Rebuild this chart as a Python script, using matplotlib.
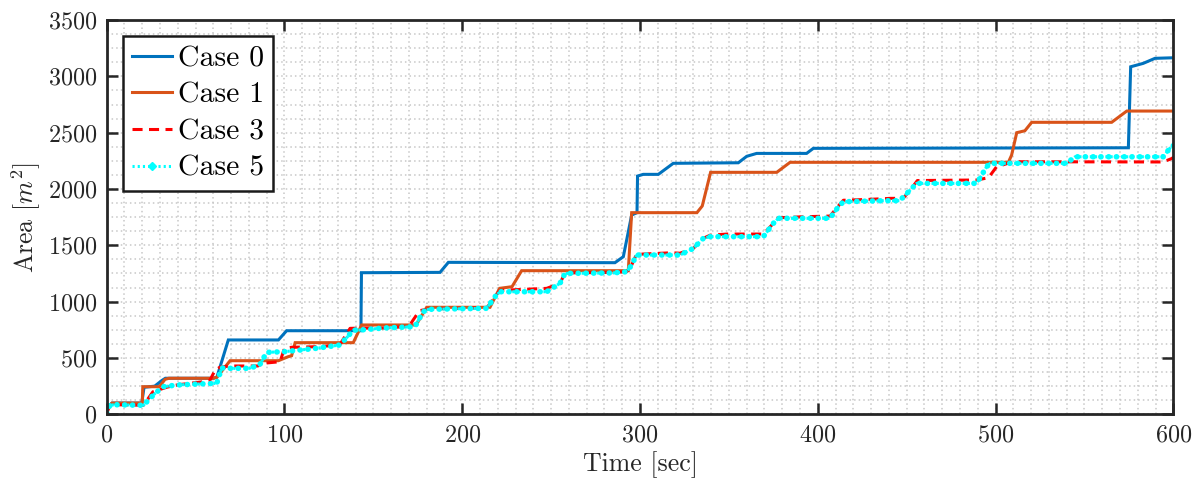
import matplotlib
matplotlib.use("Agg")
import matplotlib.pyplot as plt
from matplotlib.ticker import MultipleLocator
from matplotlib.lines import Line2D

plt.rcParams['font.family'] = 'serif'
plt.rcParams['font.serif'] = ['cmr10']
plt.rcParams['mathtext.fontset'] = 'cm'
plt.rcParams['axes.formatter.use_mathtext'] = True
plt.rcParams['axes.unicode_minus'] = False

# ---- data ----
t_case0 = [0, 1, 3, 19.7, 21, 27, 31, 33, 60, 62, 68.4, 96.6, 101.2, 143, 143.3,
           187.5, 192.2, 285.9, 290.6, 295.3, 298.3, 298.6, 301.8, 310.3, 318.7,
           355.3, 360, 365.6, 393.7, 397.5, 574.7, 576, 583, 589.7, 600]
a_case0 = [20, 70, 100, 100, 240, 250, 300, 320, 320, 330, 660, 660, 742, 742, 1257,
           1260, 1349, 1346, 1399, 1769, 1790, 2115, 2130, 2130, 2228,
           2233, 2290, 2316, 2316, 2361, 2366, 3085, 3115, 3160, 3165]

t_case1 = [0, 1, 3, 20, 20.3, 29.6, 32.8, 35, 60, 62, 69.4, 96.6, 102, 104, 106,
           138.7, 143.4, 174, 180, 215.6, 221, 228, 233.4, 293.4, 295.3, 332,
           335, 339.7, 376.9, 384.4, 507.2, 509, 511.9, 516.5, 520.3, 565.3,
           573.8, 600]
a_case1 = [20, 70, 100, 100, 245, 245, 310, 320, 320, 330, 476, 476, 511, 520, 636,
           636, 793, 793, 950, 950, 1118, 1133, 1275, 1275, 1790, 1790,
           1849, 2148, 2148, 2237, 2237, 2300, 2500, 2517, 2592, 2592,
           2692, 2692]

t_case3 = [0, 1.9, 5, 20.6, 26, 33.7, 40, 54, 58, 61, 64, 69.4, 85, 88, 97.5,
           100, 104, 118, 131, 136.9, 142.5, 155.6, 170, 172.5, 176, 181, 213.8,
           218.4, 221.2, 247.5, 255, 257.8, 285, 292.5, 295.3, 298, 317.8, 322.5,
           330, 335.6, 339.4, 349, 369.4, 375, 377.8, 393, 406.9, 411.6, 414.4,
           429, 441, 448, 452, 456, 489.4, 496, 500.6, 510, 594.3, 599, 600]
a_case3 = [10, 82, 85, 80, 200, 240, 262, 289, 300, 393, 420, 429, 429, 453, 467,
           586, 595, 600, 615, 763, 765, 766, 780, 840, 920, 935, 945,
           1044, 1100, 1118, 1163, 1255, 1260, 1266, 1325, 1420, 1434, 1430,
           1473, 1562, 1590, 1600, 1600, 1695, 1745, 1754, 1760, 1850, 1900,
           1908, 1917, 1917, 1991, 2075, 2080, 2100, 2198, 2242, 2240, 2270, 2280]

t_case5 = [0, 1.9, 5, 20.6, 27.2, 31.8, 39.4, 50, 61.9, 64.7, 69.4, 80, 86, 90,
           100, 118, 131, 135, 138.7, 142.5, 155.6, 173.4, 178, 181, 213.8,
           218.4, 221.2, 247.5, 255, 257.8, 285, 292.5, 295.3, 298, 322.5, 330,
           335.6, 339.4, 369.4, 375, 377.8, 406.9, 411.6, 414.4, 437, 446, 452,
           455.6, 489.4, 495, 496.9, 540, 544.7, 594.3, 599, 600]
a_case5 = [10, 82, 85, 80, 186, 245, 260, 268, 275, 412, 408, 408, 437, 550,
           556, 586, 615, 680, 748, 748, 766, 778, 911, 932, 941,
           1044, 1088, 1088, 1163, 1251, 1255, 1266, 1325, 1414, 1414, 1473,
           1562, 1577, 1577, 1695, 1740, 1740, 1843, 1887, 1896, 1896, 1991,
           2050, 2050, 2198, 2228, 2228, 2286, 2286, 2381, 2385]

labels = ['Case 0', 'Case 1', 'Case 3', 'Case 5']
x_ticks = [0, 100, 200, 300, 400, 500, 600]
y_ticks = [0, 500, 1000, 1500, 2000, 2500, 3000, 3500]

# ---- figure ----
fig = plt.figure(figsize=(11.99, 4.86), dpi=100)
ax = fig.add_axes([0.089, 0.1475, 0.8896, 0.8113])

lw = 2.2
c0 = '#0072BD'
c1 = '#D95319'
c3 = '#FF0000'
c5 = '#00FFFF'

ax.plot(t_case0, a_case0, color=c0, lw=lw, solid_joinstyle='miter')
ax.plot(t_case1, a_case1, color=c1, lw=lw, solid_joinstyle='miter')
ax.plot(t_case3, a_case3, color=c3, lw=lw, linestyle=(0, (3.3, 2.1)))
# cyan dotted line with blob pattern
ax.plot(t_case5, a_case5, color=c5, lw=lw, linestyle=(0, (0.7, 1.0)))
ax.plot(t_case5, a_case5, color=c5, lw=4.0, linestyle=(0, (0.05, 1.35)),
        dash_capstyle='round')

ax.set_xlim(0, 600)
ax.set_ylim(0, 3500)
ax.set_xticks(x_ticks)
ax.set_yticks(y_ticks)
ax.xaxis.set_minor_locator(MultipleLocator(10))
ax.yaxis.set_minor_locator(MultipleLocator(125))

dark = '#262626'
ax.tick_params(which='major', direction='in', length=8, width=1.8,
               top=True, right=True, labelsize=17.4, colors=dark, pad=7)
ax.tick_params(which='minor', length=0, top=True, right=True)
for s in ax.spines.values():
    s.set_linewidth(2.0)
    s.set_color(dark)

ax.set_axisbelow(True)
ax.grid(which='both', color='#c8c8c8', linestyle=(0, (1.0, 2.0)), linewidth=1.1)

ax.set_xlabel('Time [sec]', fontsize=18.6, color=dark, labelpad=4)
ax.set_ylabel('Area [$m^2$]', fontsize=18.6, color=dark, labelpad=3)

handles = [
    Line2D([], [], color=c0, lw=lw),
    Line2D([], [], color=c1, lw=lw),
    Line2D([], [], color=c3, lw=lw, linestyle=(0, (3.3, 2.1))),
    Line2D([], [], color=c5, lw=lw, linestyle=(0, (0.7, 1.0)), marker='D',
           markersize=4, markevery=[1]),
]
leg = ax.legend(handles, labels, loc='upper left', fontsize=21.4,
                fancybox=False, framealpha=1, edgecolor='#1a1a1a',
                borderaxespad=0.55, handlelength=1.35, handletextpad=0.2,
                labelspacing=0.33, borderpad=0.3)
leg.get_frame().set_linewidth(1.8)

fig.savefig('out.png', dpi=100)
